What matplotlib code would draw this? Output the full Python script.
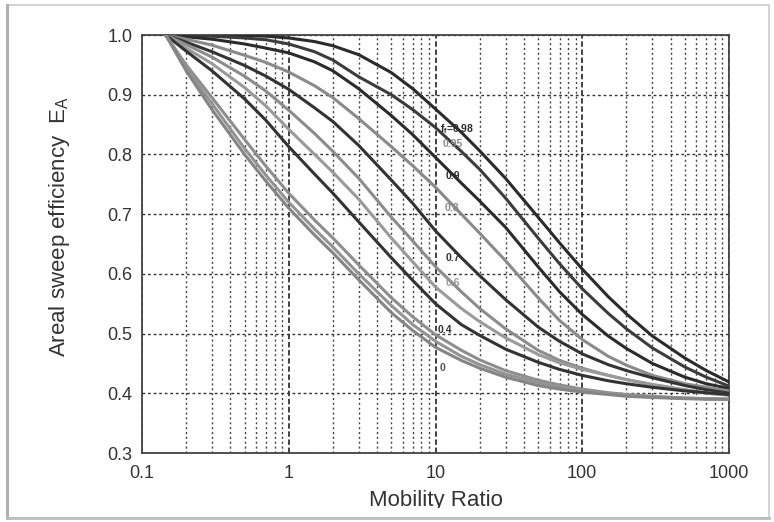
import matplotlib
matplotlib.use("Agg")
import matplotlib.pyplot as plt
from matplotlib.patches import Rectangle
from matplotlib.lines import Line2D

plt.rcParams['font.family'] = ['Liberation Sans', 'DejaVu Sans']

# Mobility ratio grid (read points)
mobility = [0.145, 0.2, 0.3, 0.5, 0.7, 1, 1.5, 2, 3, 5, 7, 10, 15, 20, 30, 50, 70, 100, 150, 200, 300, 500, 700, 1000]

ea_098 = [1.0, 1.0, 1.0, 0.999, 0.998, 0.995, 0.989, 0.982, 0.967, 0.937, 0.91, 0.876, 0.837, 0.806, 0.76, 0.695, 0.652, 0.608, 0.562, 0.533, 0.496, 0.459, 0.438, 0.419]
ea_095 = [1.0, 0.999, 0.998, 0.995, 0.992, 0.985, 0.972, 0.958, 0.93, 0.9, 0.875, 0.845, 0.805, 0.775, 0.727, 0.66, 0.617, 0.575, 0.534, 0.508, 0.476, 0.444, 0.427, 0.412]
ea_090 = [1.0, 0.997, 0.993, 0.985, 0.978, 0.97, 0.955, 0.94, 0.91, 0.865, 0.833, 0.795, 0.752, 0.722, 0.678, 0.612, 0.57, 0.532, 0.496, 0.475, 0.45, 0.427, 0.416, 0.408]
ea_080 = [1.0, 0.993, 0.983, 0.966, 0.954, 0.938, 0.915, 0.895, 0.86, 0.813, 0.781, 0.745, 0.7, 0.668, 0.622, 0.56, 0.522, 0.49, 0.462, 0.447, 0.43, 0.416, 0.41, 0.404]
ea_070 = [1.0, 0.988, 0.972, 0.949, 0.931, 0.909, 0.878, 0.855, 0.815, 0.757, 0.718, 0.672, 0.627, 0.597, 0.557, 0.511, 0.487, 0.466, 0.448, 0.438, 0.426, 0.413, 0.406, 0.4]
ea_060 = [1.0, 0.984, 0.963, 0.931, 0.906, 0.874, 0.835, 0.805, 0.76, 0.695, 0.655, 0.612, 0.57, 0.542, 0.508, 0.472, 0.455, 0.442, 0.43, 0.423, 0.414, 0.405, 0.4, 0.397]
ea_050 = [1.0, 0.978, 0.952, 0.912, 0.881, 0.842, 0.8, 0.77, 0.725, 0.66, 0.62, 0.578, 0.542, 0.52, 0.493, 0.465, 0.451, 0.44, 0.43, 0.423, 0.415, 0.406, 0.401, 0.397]
ea_040 = [1.0, 0.973, 0.94, 0.893, 0.857, 0.813, 0.767, 0.735, 0.687, 0.627, 0.589, 0.55, 0.515, 0.497, 0.474, 0.452, 0.44, 0.43, 0.421, 0.416, 0.41, 0.404, 0.401, 0.398]
ea_020 = [1.0, 0.95, 0.895, 0.825, 0.78, 0.735, 0.69, 0.66, 0.615, 0.56, 0.528, 0.498, 0.472, 0.456, 0.438, 0.422, 0.414, 0.407, 0.401, 0.398, 0.395, 0.392, 0.391, 0.39]
ea_010 = [1.0, 0.945, 0.885, 0.81, 0.765, 0.72, 0.675, 0.645, 0.60, 0.547, 0.515, 0.487, 0.462, 0.448, 0.432, 0.418, 0.411, 0.405, 0.4, 0.397, 0.394, 0.392, 0.391, 0.39]
ea_000 = [1.0, 0.94, 0.875, 0.80, 0.755, 0.71, 0.665, 0.635, 0.59, 0.535, 0.505, 0.477, 0.455, 0.442, 0.427, 0.413, 0.407, 0.402, 0.398, 0.395, 0.393, 0.391, 0.39, 0.39]

curve_keys = ['0.98', '0.95', '0.9', '0.8', '0.7', '0.6', '0.5', '0.4', '0.2', '0.1', '0']
curve_values = [ea_098, ea_095, ea_090, ea_080, ea_070, ea_060, ea_050, ea_040, ea_020, ea_010, ea_000]
curve_colors = ['#2b2b2b', '#3c3c3c', '#2b2b2b', '#8a8a8a', '#333333', '#8c8c8c', '#9a9a9a', '#333333', '#8e8e8e', '#939393', '#858585']

# curve labels (text, position in data coords)
label_texts = ['f$_\\mathregular{f}$=0.98', '0.95', '0.9', '0.8', '0.7', '0.6', '0.4', '0']
label_x = [10.7, 11.2, 11.8, 11.6, 11.8, 11.8, 10.4, 10.7]
label_y = [0.842, 0.818, 0.764, 0.71, 0.627, 0.585, 0.506, 0.442]
label_colors = ['#2b2b2b', '#8a8a8a', '#2b2b2b', '#8a8a8a', '#333333', '#9a9a9a', '#333333', '#555555']

x_ticks = [0.1, 1, 10, 100, 1000]
x_tick_labels = ['0.1', '1', '10', '100', '1000']
y_ticks = [0.3, 0.4, 0.5, 0.6, 0.7, 0.8, 0.9, 1.0]
y_tick_labels = ['0.3', '0.4', '0.5', '0.6', '0.7', '0.8', '0.9', '1.0']

fig = plt.figure(figsize=(7.74, 5.22), dpi=100)
ax = fig.add_axes([142/774, 1-453/522, 587/774, 418/522])

ax.set_xscale('log')
ax.set_xlim(0.1, 1000)
ax.set_ylim(0.3, 1.0)

ax.set_xticks(x_ticks)
ax.set_xticklabels(x_tick_labels)
ax.set_yticks(y_ticks)
ax.set_yticklabels(y_tick_labels)
ax.grid(True, which='major', axis='y', linestyle=(0, (2, 2)), color='#333333', linewidth=1.0)
ax.grid(True, which='major', axis='x', linestyle=(0, (3, 1.5)), color='#333333', linewidth=1.3)
ax.grid(True, which='minor', axis='x', linestyle=(0, (1.5, 2)), color='#444444', linewidth=1.0)
ax.tick_params(which='both', length=0, labelsize=13, colors='#333333')
ax.tick_params(axis='x', which='major', pad=9)
ax.tick_params(axis='y', which='major', pad=7)
ax.tick_params(axis='x', which='minor', labelbottom=False)

for key, vals, col in zip(curve_keys, curve_values, curve_colors):
    ax.plot(mobility, vals, color=col, linewidth=2.2, solid_capstyle='round',
            solid_joinstyle='round', zorder=3)

for t, lx, ly, lc in zip(label_texts, label_x, label_y, label_colors):
    ax.text(lx, ly, t, fontsize=7.5, fontweight='bold', color=lc, ha='left', va='center', zorder=4)

for s in ax.spines.values():
    s.set_color('#444444')
    s.set_linewidth(1.3)

ax.set_ylabel('Areal sweep efficiency  E$_\\mathregular{A}$', fontsize=16, color='#333333')
ax.yaxis.set_label_coords(-0.119, 0.541)
ax.set_xlabel('Mobility Ratio', fontsize=16, color='#333333')
ax.xaxis.set_label_coords(0.501, -0.088)

# picture frame; the bottom edge cuts the axis title like in the original scan
fig.patches.append(Rectangle((0, 0), 1, 14/522, transform=fig.transFigure,
                             facecolor='white', edgecolor='none', zorder=10))
fig.patches.append(Rectangle((7/774, 4/522), 762/774, 513/522, transform=fig.transFigure,
                             fill=False, edgecolor='#d3d3d3', linewidth=1.5, zorder=11))
fig.lines.append(Line2D([7/774, 7/774], [4/522, 517/522], transform=fig.transFigure,
                        color='#b0b0b0', linewidth=2.2, zorder=12))
fig.lines.append(Line2D([7/774, 769/774], [4/522, 4/522], transform=fig.transFigure,
                        color='#bdbdbd', linewidth=2.0, zorder=12))

fig.savefig('out.png', dpi=100, facecolor='white')
